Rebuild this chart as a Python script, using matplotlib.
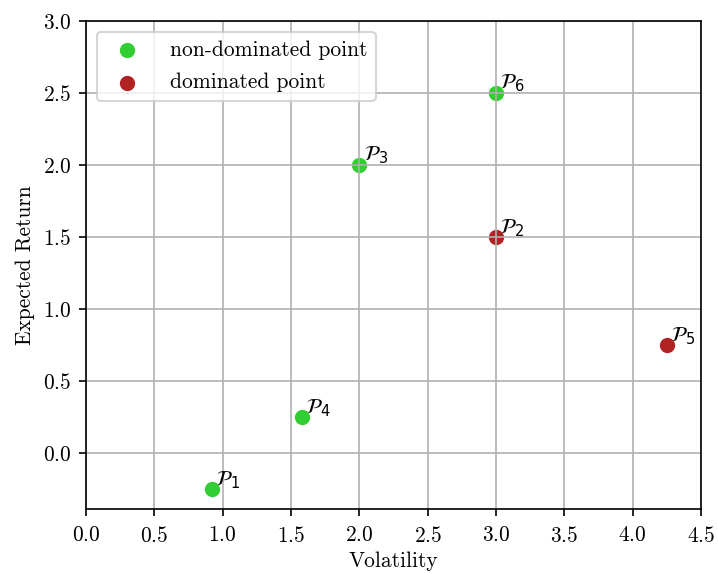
import matplotlib
matplotlib.use("Agg")
import matplotlib.pyplot as plt

plt.rcParams['font.family'] = 'serif'
plt.rcParams['font.serif'] = ['cmr10']
plt.rcParams['axes.formatter.use_mathtext'] = True
plt.rcParams['mathtext.fontset'] = 'dejavusans'
plt.rcParams['font.size'] = 10.3

# portfolios: volatility, expected return
names = ['1', '2', '3', '4', '5', '6']
volatility = [0.92, 3.0, 2.0, 1.58, 4.25, 3.0]
exp_return = [-0.25, 1.5, 2.0, 0.25, 0.75, 2.5]
dominated = [False, True, False, False, True, False]

nd_x = [v for v, d in zip(volatility, dominated) if not d]
nd_y = [r for r, d in zip(exp_return, dominated) if not d]
d_x = [v for v, d in zip(volatility, dominated) if d]
d_y = [r for r, d in zip(exp_return, dominated) if d]

dpi = 150
fig = plt.figure(figsize=(718 / dpi, 574 / dpi), dpi=dpi)
ax = fig.add_axes([86 / 718, 1 - 509 / 574, (701 - 86) / 718, (509 - 21) / 574])

ax.scatter(nd_x, nd_y, color='limegreen', s=40, label='non-dominated point')
ax.scatter(d_x, d_y, color='firebrick', s=40, label='dominated point')

for n, x, y in zip(names, volatility, exp_return):
    ax.annotate(r'$\mathcal{P}_' + n + '$', (x, y), xytext=(2, 2),
                textcoords='offset points', fontsize=10)

ax.grid(True)
ax.set_xlim(0, 4.5)
ax.set_ylim(-0.3875, 3.0)
ax.set_xticks([0.0, 0.5, 1.0, 1.5, 2.0, 2.5, 3.0, 3.5, 4.0, 4.5])
ax.set_yticks([0.0, 0.5, 1.0, 1.5, 2.0, 2.5, 3.0])
ax.tick_params(axis='x', pad=4.5)
ax.set_xlabel('Volatility', labelpad=3)
ax.set_ylabel('Expected Return')
ax.legend(loc='upper left', handletextpad=1.0, labelspacing=0.6)

fig.savefig('out.png', dpi=dpi)
